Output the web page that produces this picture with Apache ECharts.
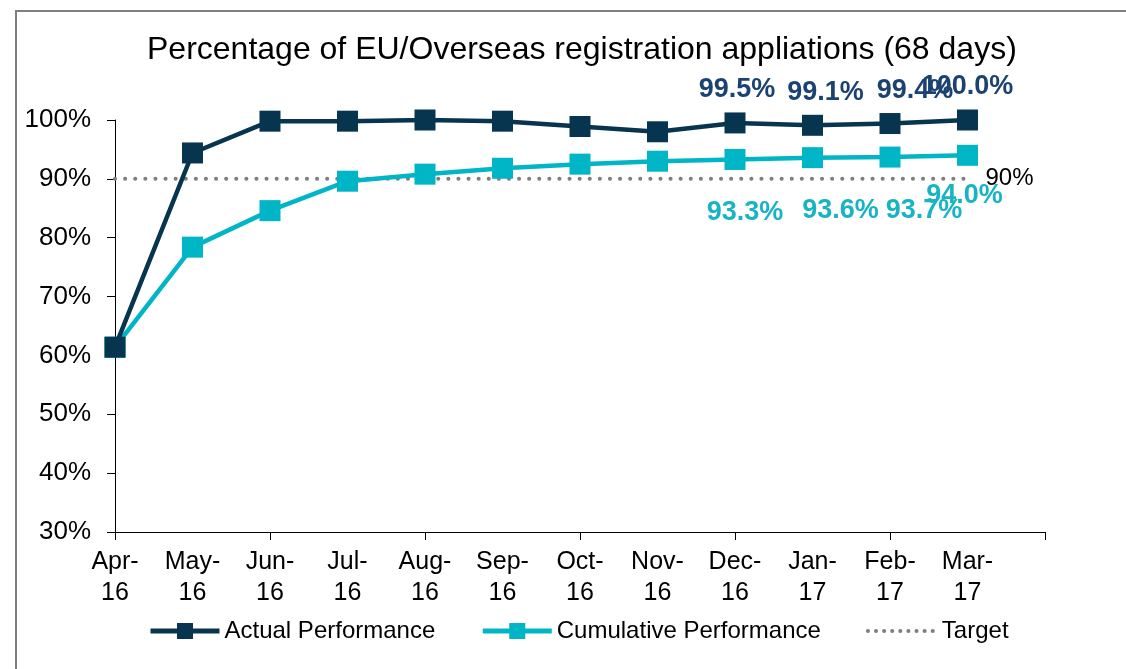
<!DOCTYPE html>
<html>
<head>
<meta charset="utf-8">
<script src="https://cdn.jsdelivr.net/npm/echarts@6/dist/echarts.min.js"></script>
<style>
  html, body { margin: 0; padding: 0; background: #fff; }
  #main { width: 1126px; height: 669px; }
</style>
</head>
<body>
<div id="main"></div>
<script>
// months on the x axis, last slot is empty (Excel leaves one spare category)
var months = ['Apr-\n16', 'May-\n16', 'Jun-\n16', 'Jul-\n16', 'Aug-\n16', 'Sep-\n16',
  'Oct-\n16', 'Nov-\n16', 'Dec-\n16', 'Jan-\n17', 'Feb-\n17', 'Mar-\n17', ''];
var actual = [61.4, 94.4, 99.8, 99.8, 100.0, 99.8, 98.9, 98.0, 99.5, 99.1, 99.4, 100.0];
var cumulative = [61.4, 78.4, 84.6, 89.6, 90.8, 91.8, 92.5, 93.0, 93.3, 93.6, 93.7, 94.0];
var target = [90, 90, 90, 90, 90, 90, 90, 90, 90, 90, 90, 90];
var yTicks = [30, 40, 50, 60, 70, 80, 90, 100];

var FONT = '"Liberation Sans", Arial, sans-serif';
var DARK = '#07344f';
var TEAL = '#00b5c5';
var GREY = '#7f7f7f';

// only the last four months carry data labels, nudged like in the original
var actualOffsets = { 8: [2, 0], 9: [13, 0], 10: [25, 0], 11: [0, 0] };
var cumOffsets = { 8: [10, 0], 9: [28, 0], 10: [34, 0], 11: [-3, -13] };

function withLabels(values, offsets) {
  return values.map(function (v, i) {
    if (offsets[i]) {
      return { value: v, label: { show: true, offset: offsets[i] } };
    }
    return v;
  });
}

var chart = echarts.init(document.getElementById('main'), null, { renderer: 'canvas' });

var dots = { color: GREY, width: 4, type: [0.1, 10], cap: 'round' };

var option = {
  backgroundColor: '#fff',
  animation: false,
  textStyle: { fontFamily: FONT },
  graphic: [{
    type: 'rect',
    shape: { x: 16, y: 11, width: 1300, height: 900 },
    style: { fill: 'none', stroke: GREY, lineWidth: 2 },
    silent: true
  }],
  title: {
    text: 'Percentage of EU/Overseas registration appliations (68 days)',
    left: 147,
    top: 34,
    padding: 0,
    textStyle: { fontFamily: FONT, fontSize: 32, fontWeight: 'normal', color: '#000' }
  },
  legend: {
    left: 148,
    top: 619,
    padding: 0,
    itemWidth: 69,
    itemHeight: 20,
    itemGap: 45,
    textStyle: { fontFamily: FONT, fontSize: 24, color: '#000' },
    data: [
      { name: 'Actual Performance', lineStyle: { width: 5 } },
      { name: 'Cumulative Performance', lineStyle: { width: 5 } },
      { name: 'Target', itemStyle: { opacity: 0 }, lineStyle: { width: 4, type: [0.1, 8], cap: 'round' } }
    ]
  },
  grid: { left: 115, right: 81, top: 120, bottom: 137, containLabel: false },
  xAxis: {
    type: 'category',
    data: months,
    boundaryGap: false,
    axisLine: { lineStyle: { color: '#000', width: 1 } },
    axisTick: { show: true, interval: 1, length: 8, inside: false, lineStyle: { color: '#000' } },
    axisLabel: {
      interval: 0,
      margin: 15,
      fontFamily: FONT,
      fontSize: 25,
      lineHeight: 31,
      color: '#000'
    },
    splitLine: { show: false }
  },
  yAxis: {
    type: 'value',
    min: yTicks[0],
    max: yTicks[yTicks.length - 1],
    interval: 10,
    axisLine: { show: true, lineStyle: { color: '#000', width: 1 } },
    axisTick: { show: true, length: 8, lineStyle: { color: '#000' } },
    axisLabel: {
      formatter: '{value}%',
      margin: 24,
      fontFamily: FONT,
      fontSize: 26,
      color: '#000'
    },
    splitLine: { show: false }
  },
  series: [
    {
      name: 'Target',
      type: 'line',
      data: target,
      symbol: 'none',
      z: 1,
      lineStyle: dots,
      itemStyle: { color: GREY },
      endLabel: {
        show: true,
        distance: 18,
        formatter: '{c}%',
        fontFamily: FONT,
        fontSize: 24,
        color: '#000'
      }
    },
    {
      name: 'Cumulative Performance',
      type: 'line',
      data: withLabels(cumulative, cumOffsets),
      symbol: 'rect',
      symbolSize: 21,
      z: 3,
      lineStyle: { color: TEAL, width: 4.5 },
      itemStyle: { color: TEAL },
      label: {
        show: false,
        position: 'bottom',
        distance: 29,
        formatter: function (p) { return p.value.toFixed(1) + '%'; },
        fontFamily: FONT,
        fontSize: 27,
        fontWeight: 'bold',
        color: '#18b4c4'
      }
    },
    {
      name: 'Actual Performance',
      type: 'line',
      data: withLabels(actual, actualOffsets),
      symbol: 'rect',
      symbolSize: 21,
      z: 4,
      lineStyle: { color: DARK, width: 4.5 },
      itemStyle: { color: DARK },
      label: {
        show: false,
        position: 'top',
        distance: 9,
        formatter: function (p) { return p.value.toFixed(1) + '%'; },
        fontFamily: FONT,
        fontSize: 27,
        fontWeight: 'bold',
        color: '#1a4272'
      }
    }
  ]
};

chart.setOption(option);
</script>
</body>
</html>
